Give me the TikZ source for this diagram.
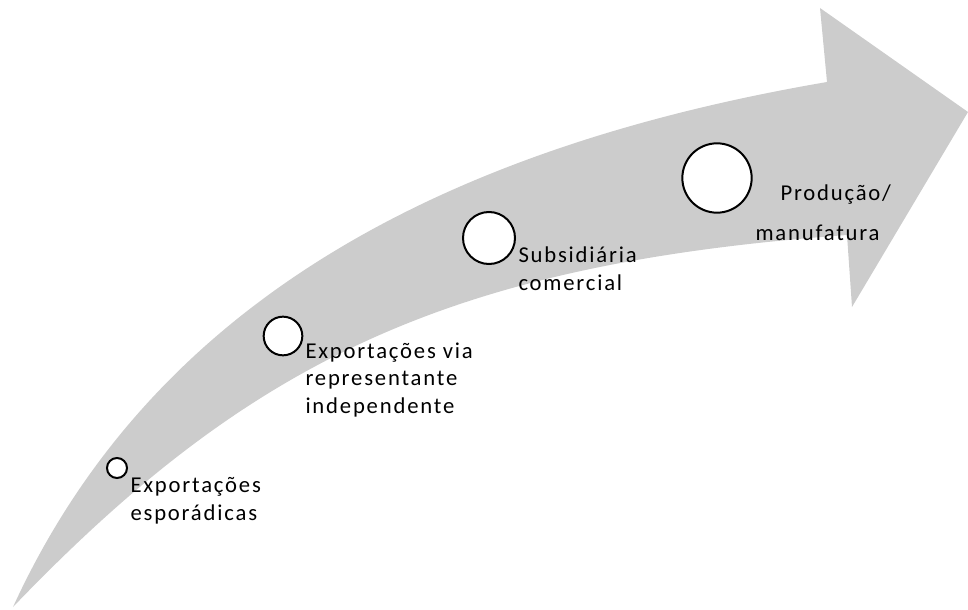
\documentclass[tikz,border=0pt]{standalone}
\usepackage{fontspec}
\setmainfont{Carlito}[LetterSpace=8]

\tikzset{every picture/.style={line width=0.75pt}}
\tikzset{
  stage/.style={draw=black, fill=white, circle, line width=1.5, inner sep=0pt},
  steplabel/.style={anchor=base west, inner sep=0pt, align=left, font=\fontsize{17}{20.5}\selectfont}
}

\begin{document}
\begin{tikzpicture}[x=0.75pt,y=0.75pt,yscale=-1,xscale=1]
	\useasboundingbox (0,0) rectangle (968,610);
	%Shape: Curved Right Arrow [id:growth]
	\draw  [draw opacity=0 ][fill={rgb, 255:red, 204; green, 204; blue, 204 }  ,fill opacity=1 ]  (13,607) .. controls (140,330) and (400,155) .. (827,82) -- (820,8) -- (968,112) -- (852,307) -- (847,235) .. controls (450,264) and (250,360) .. (13,607) -- cycle ;
	%Shape: Circle [id:stages]
	\node [stage, minimum size=15] (c1) at (117,468) {};
	\node [stage, minimum size=29] (c2) at (283,336) {};
	\node [stage, minimum size=39] (c3) at (489,238) {};
	\node [stage, minimum size=52] (c4) at (717,178) {};

	% Text Node (base = last line)
	\node [steplabel] (t1) at (130,520) {Exportações\\esporádicas};
	% Text Node
	\node [steplabel] (t2) at (305,413) {Exportações via\\representante\\independente};
	% Text Node
	\node [steplabel] (t3) at (518,290) {Subsidiária\\comercial};
	% Text Node
	\node [steplabel] (t4) at (755,240) {\hspace*{18.75pt}Produção/\\[9.5pt]manufatura};
\end{tikzpicture}
\end{document}
